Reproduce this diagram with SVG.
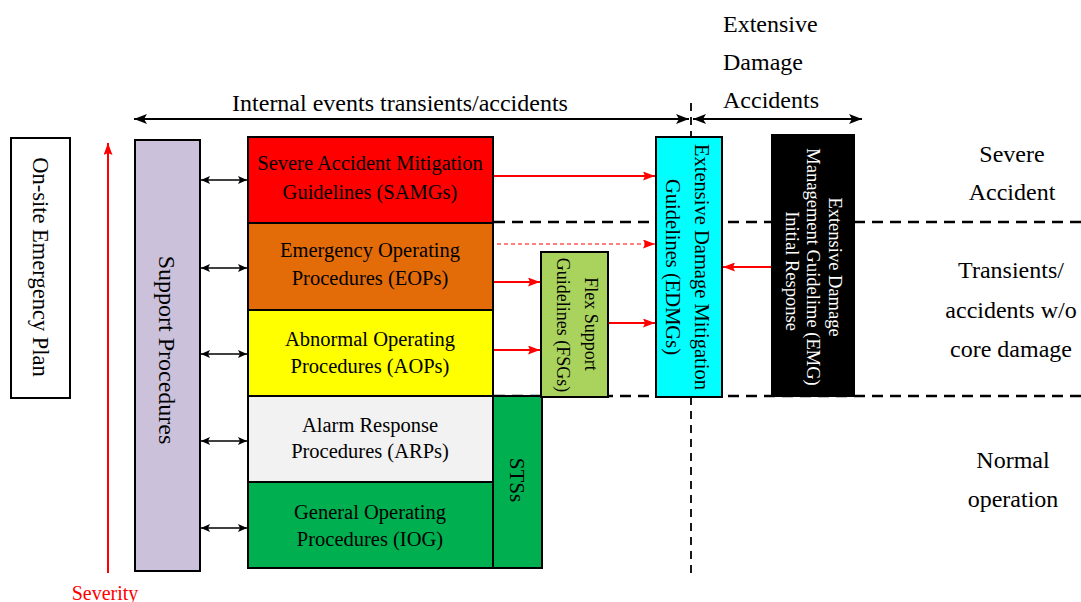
<svg xmlns="http://www.w3.org/2000/svg" width="1081" height="602" viewBox="0 0 1081 602">
<style>
text{font-family:"Liberation Serif","Times New Roman",serif;fill:#000}
.lbl{font-size:24px}
.blk{font-size:20.5px;text-anchor:middle}
.box{stroke:#000;stroke-width:2}
.dash{stroke:#000;stroke-width:2.5;stroke-dasharray:11 7;fill:none}
.vdash{stroke:#000;stroke-width:1.8;stroke-dasharray:8 6;fill:none}
.ka{stroke:#000;stroke-width:2;fill:none}
.ks{stroke:#000;stroke-width:1.5;fill:none}
.ra{stroke:#f00;stroke-width:1.8;fill:none}
.rot{text-anchor:middle}
</style>
<defs>
<marker id="mBig" markerUnits="userSpaceOnUse" markerWidth="14" markerHeight="10" refX="13" refY="5" orient="auto-start-reverse"><path d="M0,0 L13,5 L0,10 L3,5 z" fill="#000"/></marker>
<marker id="mSmall" markerUnits="userSpaceOnUse" markerWidth="9" markerHeight="8" refX="9" refY="4" orient="auto-start-reverse"><path d="M0,0 L9,4 L0,8 L2,4 z" fill="#000"/></marker>
<marker id="mRed" markerUnits="userSpaceOnUse" markerWidth="12" markerHeight="9" refX="12" refY="4.5" orient="auto-start-reverse"><path d="M0,0 L12,4.5 L0,9 L2,4.5 z" fill="#f00"/></marker>
</defs>
<rect width="1081" height="602" fill="#fff"/>

<g id="region-lines">
<line class="dash" x1="494" y1="222" x2="1081" y2="222"/>
<line class="dash" x1="494" y1="396" x2="1081" y2="396"/>
<line class="vdash" x1="691" y1="103" x2="691" y2="575"/>
</g>

<g id="scope-labels">
<text class="lbl" x="400" y="111" text-anchor="middle">Internal events transients/accidents</text>
<text class="lbl" x="723" y="32">Extensive</text>
<text class="lbl" x="723" y="70">Damage</text>
<text class="lbl" x="723" y="108">Accidents</text>
<text class="lbl" x="1012" y="162" text-anchor="middle">Severe</text>
<text class="lbl" x="1012" y="200" text-anchor="middle">Accident</text>
<text class="lbl" x="1011" y="278" text-anchor="middle">Transients/</text>
<text class="lbl" x="1011" y="318" text-anchor="middle">accidents w/o</text>
<text class="lbl" x="1011" y="357" text-anchor="middle">core damage</text>
<text class="lbl" x="1013" y="468" text-anchor="middle">Normal</text>
<text class="lbl" x="1013" y="507" text-anchor="middle">operation</text>
</g>

<g id="onsite-plan">
<rect class="box" x="11" y="138" width="59" height="260" fill="#fff"/>
<text class="rot" font-size="22.5" transform="translate(41,267) rotate(90)" dy="0.35em">On-site Emergency Plan</text>
</g>

<g id="severity">
<line x1="108" y1="573" x2="108" y2="143" stroke="#f00" stroke-width="2" marker-end="url(#mRed)"/>
<text x="105" y="600" font-size="20" text-anchor="middle" style="fill:#f00">Severity</text>
</g>

<g id="support-procedures">
<rect class="box" x="135" y="140" width="65" height="431" fill="#ccc1da"/>
<text class="rot" font-size="24" transform="translate(167,350) rotate(90)" dy="0.35em">Support Procedures</text>
</g>

<g id="samgs">
<rect class="box" x="248" y="137" width="245" height="86" fill="#f00"/>
<text class="blk" x="370" y="170">Severe Accident Mitigation</text>
<text class="blk" x="370" y="199">Guidelines (SAMGs)</text>
</g>

<g id="eops">
<rect class="box" x="248" y="223" width="245" height="87" fill="#e36c09"/>
<text class="blk" x="370" y="257">Emergency Operating</text>
<text class="blk" x="370" y="285">Procedures (EOPs)</text>
</g>

<g id="aops">
<rect class="box" x="248" y="310" width="245" height="86" fill="#ffff00"/>
<text class="blk" x="370" y="346">Abnormal Operating</text>
<text class="blk" x="370" y="373">Procedures (AOPs)</text>
</g>

<g id="arps">
<rect class="box" x="248" y="396" width="245" height="86" fill="#f2f2f2"/>
<text class="blk" x="370" y="432">Alarm Response</text>
<text class="blk" x="370" y="458">Procedures (ARPs)</text>
</g>

<g id="iog">
<rect class="box" x="248" y="482" width="245" height="86" fill="#00b050"/>
<text class="blk" x="370" y="519">General Operating</text>
<text class="blk" x="370" y="546">Procedures (IOG)</text>
</g>

<g id="stss">
<rect class="box" x="493" y="396" width="49" height="172" fill="#00b050"/>
<text class="rot" font-size="21" transform="translate(517,480) rotate(90)" dy="0.35em">STSs</text>
</g>

<g id="fsgs">
<rect class="box" x="541" y="252" width="67" height="145" fill="#a9d35c"/>
<text class="rot" font-size="18" transform="translate(591,324) rotate(90)" dy="0.35em">Flex Support</text>
<text class="rot" font-size="18" transform="translate(563,325) rotate(90)" dy="0.35em">Guidelines (FSGs)</text>
</g>

<g id="edmgs">
<rect class="box" x="656" y="137" width="66" height="260" fill="#00ffff"/>
<text class="rot" font-size="20.5" transform="translate(702,267) rotate(90)" dy="0.35em">Extensive Damage Mitigation</text>
<text class="rot" font-size="20.5" transform="translate(673,267) rotate(90)" dy="0.35em">Guidelines (EDMGs)</text>
</g>

<g id="emg">
<rect class="box" x="772" y="135" width="82" height="261" fill="#000"/>
<text class="rot" font-size="18.5" transform="translate(835,267) rotate(90)" dy="0.35em" style="fill:#fff">Extensive Damage</text>
<text class="rot" font-size="18.5" transform="translate(813,267) rotate(90)" dy="0.35em" style="fill:#fff">Management Guidelime (EMG)</text>
<text class="rot" font-size="18.5" transform="translate(792,271) rotate(90)" dy="0.35em" style="fill:#fff">Initial Response</text>
</g>

<g id="connectors">
<line class="ka" x1="134" y1="119" x2="689" y2="119" marker-start="url(#mBig)" marker-end="url(#mBig)"/>
<line class="ka" x1="693" y1="119" x2="862" y2="119" marker-start="url(#mBig)" marker-end="url(#mBig)"/>
<line class="ks" x1="201" y1="180" x2="247" y2="180" marker-start="url(#mSmall)" marker-end="url(#mSmall)"/>
<line class="ks" x1="201" y1="268" x2="247" y2="268" marker-start="url(#mSmall)" marker-end="url(#mSmall)"/>
<line class="ks" x1="201" y1="354" x2="247" y2="354" marker-start="url(#mSmall)" marker-end="url(#mSmall)"/>
<line class="ks" x1="201" y1="441" x2="247" y2="441" marker-start="url(#mSmall)" marker-end="url(#mSmall)"/>
<line class="ks" x1="201" y1="528" x2="247" y2="528" marker-start="url(#mSmall)" marker-end="url(#mSmall)"/>
<line class="ra" x1="494" y1="176" x2="655" y2="176" marker-end="url(#mRed)"/>
<line x1="497" y1="244" x2="655" y2="244" stroke="#f00" stroke-width="1.1" stroke-dasharray="4 3" marker-end="url(#mRed)"/>
<line class="ra" x1="494" y1="282" x2="540" y2="282" marker-end="url(#mRed)"/>
<line class="ra" x1="494" y1="350" x2="540" y2="350" marker-end="url(#mRed)"/>
<line class="ra" x1="609" y1="323" x2="655" y2="323" marker-end="url(#mRed)"/>
<line class="ra" x1="771" y1="267" x2="723" y2="267" marker-end="url(#mRed)"/>
</g>
</svg>
